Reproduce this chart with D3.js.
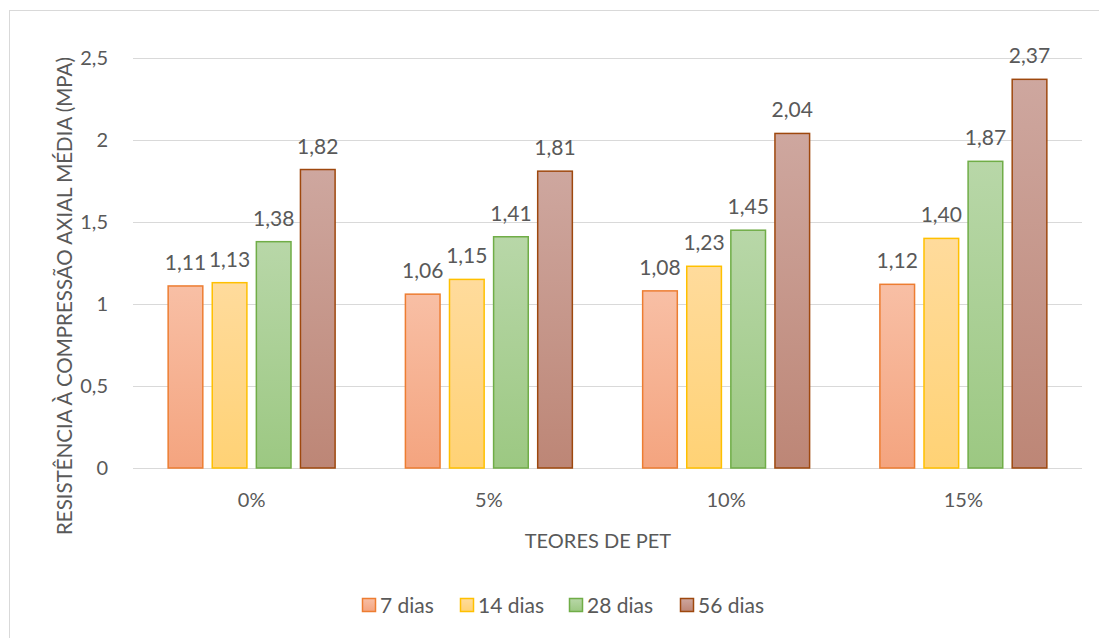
<!DOCTYPE html>
<html>
<head>
<meta charset="utf-8">
<script src="https://cdn.jsdelivr.net/npm/d3@7"></script>
<style>
  html, body { margin: 0; padding: 0; background: #fff; }
  svg { display: block; }
  text { font-family: Lato, "Open Sans", sans-serif; fill: #595959; }
</style>
</head>
<body>
<svg id="chart" width="1099" height="638"></svg>
<script>
// Teores de PET (eixo X)
const categories = ["0%", "5%", "10%", "15%"];
// Idades de cura (séries)
const series = ["7 dias", "14 dias", "28 dias", "56 dias"];
// Resistência média (MPa) por série, na ordem das categorias
const dias7  = [1.11, 1.06, 1.08, 1.12];
const dias14 = [1.13, 1.15, 1.23, 1.40];
const dias28 = [1.38, 1.41, 1.45, 1.87];
const dias56 = [1.82, 1.81, 2.04, 2.37];
const yTicks = [0, 0.5, 1, 1.5, 2, 2.5];

const seriesValues = [dias7, dias14, dias28, dias56];
const styles = [
  { top: "#F8BFA5", bottom: "#F4A47F", stroke: "#ED7D31" },
  { top: "#FFDB9C", bottom: "#FFD275", stroke: "#FFC000" },
  { top: "#B8D7A8", bottom: "#9CC882", stroke: "#70AD47" },
  { top: "#CEA79F", bottom: "#BD8676", stroke: "#9E480E" }
];

const svg = d3.select("#chart");
const margin = { left: 133, right: 17, top: 58, bottom: 170 };
const W = 1099, H = 638;

// chart frame (only top/left edges fall inside the view)
svg.append("rect")
  .attr("x", 9.5).attr("y", 10.5)
  .attr("width", 1200).attr("height", 800)
  .attr("fill", "none").attr("stroke", "#D9D9D9").attr("stroke-width", 1);

const defs = svg.append("defs");
styles.forEach((s, i) => {
  const g = defs.append("linearGradient")
    .attr("id", "grad" + i)
    .attr("x1", 0).attr("y1", 0).attr("x2", 0).attr("y2", 1);
  g.append("stop").attr("offset", "0%").attr("stop-color", s.top);
  g.append("stop").attr("offset", "100%").attr("stop-color", s.bottom);
});

const x0 = d3.scaleBand()
  .domain(categories)
  .range([margin.left, W - margin.right]);

const x1 = d3.scaleBand()
  .domain(series)
  .range([0, x0.bandwidth()])
  .paddingInner(0.18)
  .paddingOuter(0.78);

const y = d3.scaleLinear()
  .domain([0, 2.5])
  .range([H - margin.bottom, margin.top]);

const fmt = v => d3.format(".2f")(v).replace(".", ",");
const fmtTick = v => String(v).replace(".", ",");

// gridlines
svg.append("g")
  .selectAll("line")
  .data(yTicks)
  .join("line")
  .attr("x1", margin.left).attr("x2", W - margin.right)
  .attr("y1", d => Math.round(y(d)) + 0.5).attr("y2", d => Math.round(y(d)) + 0.5)
  .attr("stroke", "#D9D9D9").attr("stroke-width", 1);

// y axis labels
const yAxis = d3.axisLeft(y).tickValues(yTicks).tickFormat(fmtTick).tickSize(0).tickPadding(25);
const yG = svg.append("g").attr("transform", `translate(${margin.left},0)`).call(yAxis);
yG.select(".domain").remove();
yG.selectAll("text").style("font-size", "20px").attr("fill", "#595959").style("font-family", "Lato, sans-serif");

// x axis labels
const xAxis = d3.axisBottom(x0).tickSize(0).tickPadding(25);
const xG = svg.append("g").attr("transform", `translate(0,${y(0)})`).call(xAxis);
xG.select(".domain").remove();
xG.selectAll("text").style("font-size", "20px").attr("fill", "#595959").style("font-family", "Lato, sans-serif");

// bars
const groups = svg.append("g")
  .selectAll("g")
  .data(categories)
  .join("g")
  .attr("transform", d => `translate(${x0(d)},0)`);

groups.selectAll("rect")
  .data((c, ci) => series.map((s, si) => ({ s, si, v: seriesValues[si][ci] })))
  .join("rect")
  .attr("x", d => x1(d.s) + 0.75)
  .attr("width", x1.bandwidth() - 1.5)
  .attr("y", d => y(d.v))
  .attr("height", d => y(0) - y(d.v))
  .attr("fill", d => `url(#grad${d.si})`)
  .attr("stroke", d => styles[d.si].stroke)
  .attr("stroke-width", 1.5);

// data labels
groups.selectAll("text.val")
  .data((c, ci) => series.map((s, si) => ({ s, si, v: seriesValues[si][ci] })))
  .join("text")
  .attr("class", "val")
  .attr("x", d => x1(d.s) + x1.bandwidth() / 2)
  .attr("y", d => y(d.v) - 16)
  .attr("text-anchor", "middle")
  .style("font-size", "21px")
  .text(d => fmt(d.v));

// axis titles
svg.append("text")
  .attr("transform", `translate(72,296) rotate(-90)`)
  .attr("text-anchor", "middle")
  .style("font-size", "20.5px")
  .text("RESISTÊNCIA À COMPRESSÃO AXIAL MÉDIA (MPA)");

svg.append("text")
  .attr("x", 598)
  .attr("y", 548)
  .attr("text-anchor", "middle")
  .style("font-size", "20px")
  .text("TEORES DE PET");

// legend
const legend = svg.append("g").attr("transform", "translate(0,605)");
const legendX = [362, 460, 569, 680];
series.forEach((s, i) => {
  const g = legend.append("g").attr("transform", `translate(${legendX[i]},0)`);
  g.append("rect")
    .attr("x", 0.5).attr("y", -6.5).attr("width", 13).attr("height", 13)
    .attr("fill", `url(#grad${i})`)
    .attr("stroke", styles[i].stroke).attr("stroke-width", 1.5);
  g.append("text")
    .attr("x", 18).attr("y", 8)
    .style("font-size", "21px")
    .text(s);
});
</script>
</body>
</html>
